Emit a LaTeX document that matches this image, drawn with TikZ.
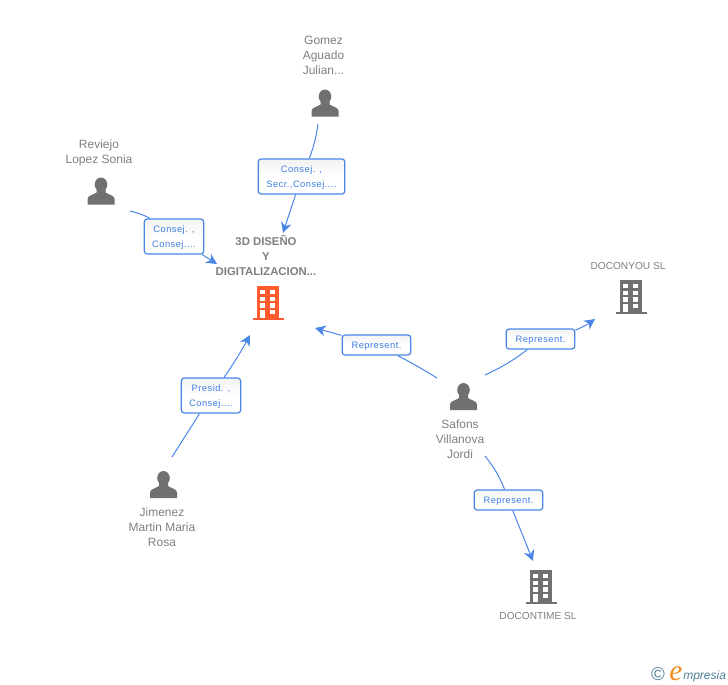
\documentclass[tikz,border=0pt]{standalone}
\usepackage{fontspec}
\setmainfont{Liberation Sans}
\newfontfamily\logoserif{Liberation Serif}
\newfontfamily\rolefont[LetterSpace=5]{Liberation Sans}
\usetikzlibrary{arrows.meta}
\definecolor{linkblue}{HTML}{4A86E8}
\definecolor{textblue}{HTML}{3F7FE0}
\definecolor{namegray}{HTML}{7F7F7F}
\definecolor{icongray}{HTML}{707070}
\definecolor{orgred}{HTML}{FF5A2B}
\definecolor{logoblue}{HTML}{4C7F96}
\definecolor{logoorange}{HTML}{F28A1E}
\tikzset{
  nametext/.style={text=namegray,font=\fontsize{9}{11.25}\selectfont,align=center,inner sep=0pt},
  firmtext/.style={text=namegray,font=\fontsize{7.6}{9}\selectfont,align=center,inner sep=0pt},
  titletext/.style={text=namegray,font=\bfseries\fontsize{8.5}{11.25}\selectfont,align=center,inner sep=0pt},
  rolebox/.style={draw=linkblue,line width=0.9pt,rounded corners=2.2pt,top color=black!5,bottom color=white,middle color=white,
    text=textblue,font=\rolefont\fontsize{7}{11.25}\selectfont,align=center,inner sep=0pt,text depth=-1pt,minimum height=#1},
  rolebox/.default=26.25pt,
  link/.style={draw=linkblue,line width=0.75pt},
  linkend/.style={link,-{Stealth[length=8pt,width=8pt,inset=2.5pt]}},
  pics/person/.style={code={
    \fill[icongray] (0,-6.5) ellipse[x radius=6.3,y radius=7];
    \fill[icongray] (-13.5,13.5) -- (-13.5,8) .. controls (-13.5,4.5) and (-8,4) .. (-4.5,1.5) -- (-4.5,-2) -- (4.5,-2) -- (4.5,1.5)
      .. controls (8,4) and (13.5,4.5) .. (13.5,8) -- (13.5,13.5) -- cycle;
  }},
  pics/building/.style={code={
    \fill[#1] (-11,-17) rectangle (11,14.5);
    \fill[#1] (-15.5,14.5) rectangle (15.5,17);
    \foreach \rowy in {-13,-6.4,0.2,6.8}{
      \fill[white] (-7.7,\rowy) rectangle (-3,\rowy+4.4);
      \fill[white] (2,\rowy) rectangle (6.8,\rowy+4.4);
    }
    \fill[white] (-7.7,6.8) rectangle (-3,14.5);
  }}
}
\begin{document}
\begin{tikzpicture}[x=0.75pt,y=-0.75pt]
  \useasboundingbox (0,0) rectangle (728,685);
  \draw (325,103) pic {person};
  \draw (101,191) pic {person};
  \draw (163.5,484.5) pic {person};
  \draw (463.5,396.5) pic {person};
  \draw (268,303) pic {building=orgred};
  \draw (631,297) pic {building=icongray};
  \draw (541,587) pic {building=icongray};
  \draw (323.5,55) node[nametext] (gomez) {Gomez\\Aguado\\Julian...};
  \draw (99,153) node[nametext] (reviejo) {Reviejo\\Lopez Sonia};
  \draw (162,527) node[nametext] (jimenez) {Jimenez\\Martin Maria\\Rosa};
  \draw (460,439.5) node[nametext] (safons) {Safons\\Villanova\\Jordi};
  \draw (266,256) node[titletext] (disenyo) {3D DISEÑO\\Y\\DIGITALIZACION...};
  \draw (628,266) node[firmtext] (doconyou) {DOCONYOU SL};
  \draw (538,616) node[firmtext] (docontime) {DOCONTIME SL};
  \draw (301.5,176.5) node[rolebox,minimum width=65pt] (rolegomez) {Consej. ,\\Secr.,Consej....};
  \draw (174,236.5) node[rolebox,minimum width=44.5pt] (rolereviejo) {Consej. ,\\Consej....};
  \draw (211,395.5) node[rolebox,minimum width=44.5pt] (rolejimenez) {Presid. ,\\Consej....};
  \draw (376.5,345) node[rolebox=15pt,minimum width=51.5pt] (rolecentre) {Represent.};
  \draw (540.5,339) node[rolebox=15pt,minimum width=51.5pt] (roleyou) {Represent.};
  \draw (508.5,500) node[rolebox=15pt,minimum width=51.5pt] (roletime) {Represent.};
  \coordinate (gomezout) at (318,124);
  \coordinate (reviejoout) at (130,211);
  \coordinate (jimenezout) at (172,457);
  \coordinate (safonsleft) at (437,378);
  \coordinate (safonsright) at (485,375);
  \coordinate (safonsdown) at (485,456);
  \coordinate (tiptop) at (283,233);
  \coordinate (tipleft) at (217,264);
  \coordinate (tipbottom) at (250,335);
  \coordinate (tipright) at (315,328);
  \coordinate (tipyou) at (595,319);
  \coordinate (tiptime) at (533,561);
  \draw[link] (gomezout) to[bend left=6] (rolegomez);
  \draw[linkend] (rolegomez) -- (tiptop);
  \draw[link] (reviejoout) to[bend left=7] (rolereviejo);
  \draw[linkend] (rolereviejo) -- (tipleft);
  \draw[link] (jimenezout) -- (rolejimenez);
  \draw[linkend] (rolejimenez) to[bend right=3] (tipbottom);
  \draw[link] (safonsleft) to[bend right=2] (rolecentre);
  \draw[linkend] (rolecentre) -- (tipright);
  \draw[link] (safonsright) to[bend right=6] (roleyou);
  \draw[linkend] (roleyou) to[bend right=6] (tipyou);
  \draw[link] (safonsdown) to[bend left=8] (roletime);
  \draw[linkend] (roletime) -- (tiptime);
  \draw (658,674) node[text=logoblue,font=\fontsize{14}{14}\selectfont,inner sep=0pt] (logomark) {©};
  \draw (669,680) node[anchor=base west,inner sep=0pt,text=logoorange,font=\logoserif\itshape\fontsize{22}{22}\selectfont] (logoe) {e};
  \draw (683,679) node[anchor=base west,inner sep=0pt,text=logoblue,font=\itshape\fontsize{9}{9}\selectfont] (logoword) {mpresia};
\end{tikzpicture}
\end{document}
